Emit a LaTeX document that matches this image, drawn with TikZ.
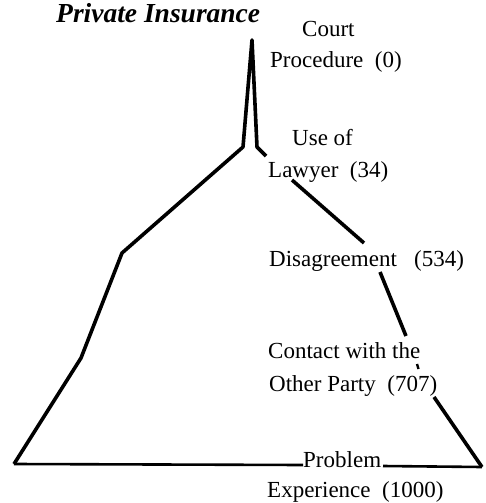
\documentclass[tikz,border=0pt]{standalone}
\usepackage{fontspec}
\setmainfont{Liberation Serif}
\begin{document}
\begin{tikzpicture}[x=1pt,y=-1pt,
  edge/.style={line width=3.6pt, line join=round, line cap=butt},
  base/.style={line width=2.6pt},
  lbl/.style={anchor=base west, inner sep=0pt, font=\fontsize{23}{27}\selectfont},
  ttl/.style={anchor=base west, inner sep=0pt, font=\fontsize{27.5}{32}\selectfont\bfseries\itshape}]
\useasboundingbox (0,0) rectangle (485,503);
% outline points
\coordinate (peak) at (252,40);
\coordinate (L1) at (243,147);
\coordinate (L2) at (122,253);
\coordinate (L3) at (81,358);
\coordinate (BL) at (14,464);
\coordinate (B1) at (303,465);
\coordinate (B2) at (383,466);
\coordinate (BR) at (482,467);
\coordinate (R1) at (257,147);
\coordinate (R2) at (266,156);
\coordinate (R3) at (292,180);
\coordinate (R4) at (364,243);
\coordinate (R5) at (380,272);
\coordinate (R6) at (406,336);
\coordinate (D1) at (417,364);
\coordinate (D2) at (418.5,369);
\coordinate (R7) at (434,397);
% outline
\draw[edge] (BL) -- (L3) -- (L2) -- (L1) -- (peak) -- (R1) -- (R2);
\draw[edge] (R3) -- (R4);
\draw[edge] (R5) -- (R6);
\draw[edge, line width=2.4pt] (D1) -- (D2);
\draw[edge] (R7) -- (BR);
\draw[base] (BL) -- (B1);
\draw[base] (B2) -- (BR);
% labels
\node[ttl] (title) at (56,23) {Private Insurance};
\node[lbl] (court) at (302,37) {Court};
\node[lbl] (proc) at (270,67) {Procedure\ \ (0)};
\node[lbl] (use) at (292,145) {Use of};
\node[lbl] (lawyer) at (268,177) {Lawyer\ \ (34)};
\node[lbl] (disag) at (269,266) {Disagreement\ \ \ (534)};
\node[lbl] (contact) at (268,358) {Contact with the};
\node[lbl] (other) at (269,391) {Other Party\ \ (707)};
\node[lbl] (problem) at (303,467) {Problem};
\node[lbl] (exper) at (267,497) {Experience\ \ (1000)};
\end{tikzpicture}
\end{document}
